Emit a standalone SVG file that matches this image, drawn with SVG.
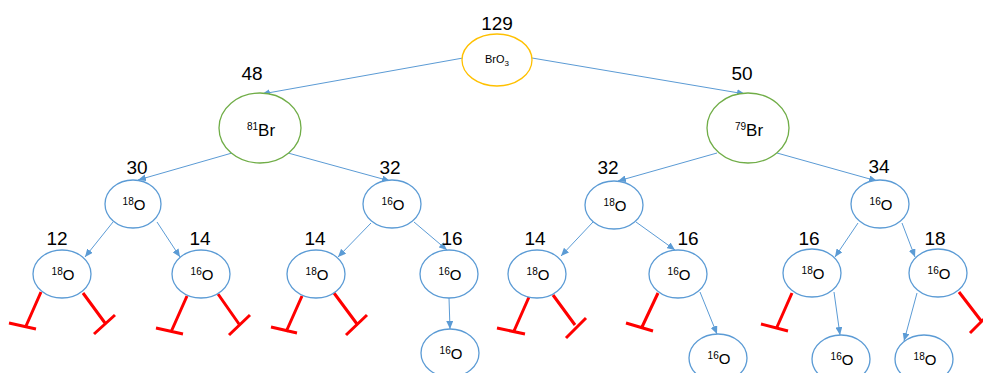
<svg xmlns="http://www.w3.org/2000/svg" width="983" height="373" viewBox="0 0 983 373">
  <style>
    .bg { fill: #ffffff; }
    .node { fill: #ffffff; stroke-width: 1.3; }
    .o { stroke: #5B9BD5; }
    .br { stroke: #70AD47; }
    .root { stroke: #FFC000; }
    .lbl { font-family: "Liberation Sans", Arial, sans-serif; font-size: 19px; fill: #000; text-anchor: middle; }
    .otxt { font-family: "Liberation Sans", Arial, sans-serif; font-size: 15px; fill: #000; text-anchor: middle; }
    .brtxt { font-family: "Liberation Sans", Arial, sans-serif; font-size: 17px; fill: #000; text-anchor: middle; }
    .rtxt { font-family: "Liberation Sans", Arial, sans-serif; font-size: 11px; fill: #000; text-anchor: middle; }
    .sup { font-size: 10px; }
    .edge { stroke: #5B9BD5; stroke-width: 1; fill: none; marker-end: url(#arrow); }
    .stop { stroke: #FF0000; stroke-width: 3; fill: none; stroke-linecap: butt; }
  </style>
  <defs>
    <marker id="arrow" markerUnits="userSpaceOnUse" markerWidth="9" markerHeight="7" refX="8" refY="3.5" orient="auto">
      <path d="M0,0 L8,3.5 L0,7 z" fill="#5B9BD5"/>
    </marker>
  </defs>
  <rect class="bg" x="0" y="0" width="983" height="373"/>

  <!-- connectors -->
  <g id="connectors">
    <path class="edge" d="M463,58 L262,94"/>
    <path class="edge" d="M532,58 L745,94"/>
    <path class="edge" d="M232,153 L138,180"/>
    <path class="edge" d="M288,153 L390,181"/>
    <path class="edge" d="M717,153 L618,181"/>
    <path class="edge" d="M777,153 L877,181"/>
    <path class="edge" d="M113,222 L85,257"/>
    <path class="edge" d="M157,222 L180,257"/>
    <path class="edge" d="M371,223 L338,257"/>
    <path class="edge" d="M414,222 L447,250"/>
    <path class="edge" d="M593,222 L561,256"/>
    <path class="edge" d="M636,222 L675,250"/>
    <path class="edge" d="M858,223 L835,257"/>
    <path class="edge" d="M902,223 L915,257"/>
    <path class="edge" d="M449,298 L450,329"/>
    <path class="edge" d="M700,292 L717,334"/>
    <path class="edge" d="M834,292 L840,335"/>
    <path class="edge" d="M917,293 L904,341"/>
  </g>

  <!-- dead-end branches -->
  <g id="stops">
    <path class="stop" d="M41,292 L26,326 M9,323 L36,329"/>
    <path class="stop" d="M83,293 L105,323 M94,334 L115,315"/>
    <path class="stop" d="M187,296 L171,332 M156,328 L183,334"/>
    <path class="stop" d="M218,294 L239,324 M229,335 L250,315"/>
    <path class="stop" d="M302,296 L286,332 M271,327 L297,333"/>
    <path class="stop" d="M334,293 L357,324 M346,335 L367,315"/>
    <path class="stop" d="M529,297 L514,331 M497,328 L525,334"/>
    <path class="stop" d="M553,295 L575,325 M566,338 L586,318"/>
    <path class="stop" d="M658,293 L642,327 M626,323 L653,331"/>
    <path class="stop" d="M792,293 L777,327 M761,324 L788,331"/>
    <path class="stop" d="M959,292 L982,322 M970,333 L990,313"/>
  </g>

  <!-- root -->
  <g id="n-bro3">
    <ellipse class="node root" cx="497" cy="60" rx="35" ry="26"/>
    <text class="rtxt" x="497" y="63">BrO<tspan font-size="8px" dy="3">3</tspan></text>
    <text class="lbl" x="497" y="30">129</text>
  </g>

  <!-- bromine isotopes -->
  <g id="n-br81">
    <ellipse class="node br" cx="260" cy="128" rx="41" ry="35"/>
    <text class="brtxt" x="261" y="136"><tspan class="sup" font-size="11px" dy="-6">81</tspan><tspan dy="6">Br</tspan></text>
    <text class="lbl" x="252" y="80">48</text>
  </g>
  <g id="n-br79">
    <ellipse class="node br" cx="748" cy="128" rx="41" ry="35"/>
    <text class="brtxt" x="749" y="136"><tspan class="sup" font-size="11px" dy="-6">79</tspan><tspan dy="6">Br</tspan></text>
    <text class="lbl" x="742" y="80">50</text>
  </g>

  <!-- first oxygen -->
  <g id="n-o1a">
    <ellipse class="node o" cx="133" cy="204" rx="28" ry="24"/>
    <text class="otxt" x="134" y="210"><tspan class="sup" dy="-5">18</tspan><tspan dy="5">O</tspan></text>
    <text class="lbl" x="137" y="174">30</text>
  </g>
  <g id="n-o1b">
    <ellipse class="node o" cx="392" cy="204" rx="29" ry="24"/>
    <text class="otxt" x="393" y="210"><tspan class="sup" dy="-5">16</tspan><tspan dy="5">O</tspan></text>
    <text class="lbl" x="390" y="174">32</text>
  </g>
  <g id="n-o1c">
    <ellipse class="node o" cx="614" cy="205" rx="29" ry="24"/>
    <text class="otxt" x="615" y="211"><tspan class="sup" dy="-5">18</tspan><tspan dy="5">O</tspan></text>
    <text class="lbl" x="608" y="174">32</text>
  </g>
  <g id="n-o1d">
    <ellipse class="node o" cx="880" cy="204" rx="29" ry="24"/>
    <text class="otxt" x="881" y="210"><tspan class="sup" dy="-5">16</tspan><tspan dy="5">O</tspan></text>
    <text class="lbl" x="879" y="173">34</text>
  </g>

  <!-- second oxygen -->
  <g id="n-o2a">
    <ellipse class="node o" cx="62" cy="274" rx="29" ry="24"/>
    <text class="otxt" x="63" y="280"><tspan class="sup" dy="-5">18</tspan><tspan dy="5">O</tspan></text>
    <text class="lbl" x="57" y="245">12</text>
  </g>
  <g id="n-o2b">
    <ellipse class="node o" cx="201" cy="274" rx="29" ry="24"/>
    <text class="otxt" x="202" y="280"><tspan class="sup" dy="-5">16</tspan><tspan dy="5">O</tspan></text>
    <text class="lbl" x="200" y="245">14</text>
  </g>
  <g id="n-o2c">
    <ellipse class="node o" cx="316" cy="274" rx="29" ry="24"/>
    <text class="otxt" x="317" y="280"><tspan class="sup" dy="-5">18</tspan><tspan dy="5">O</tspan></text>
    <text class="lbl" x="315" y="245">14</text>
  </g>
  <g id="n-o2d">
    <ellipse class="node o" cx="449" cy="274" rx="29" ry="24"/>
    <text class="otxt" x="450" y="280"><tspan class="sup" dy="-5">16</tspan><tspan dy="5">O</tspan></text>
    <text class="lbl" x="452" y="245">16</text>
  </g>
  <g id="n-o2e">
    <ellipse class="node o" cx="537" cy="274" rx="29" ry="24"/>
    <text class="otxt" x="538" y="280"><tspan class="sup" dy="-5">18</tspan><tspan dy="5">O</tspan></text>
    <text class="lbl" x="535" y="245">14</text>
  </g>
  <g id="n-o2f">
    <ellipse class="node o" cx="678" cy="274" rx="29" ry="24"/>
    <text class="otxt" x="679" y="280"><tspan class="sup" dy="-5">16</tspan><tspan dy="5">O</tspan></text>
    <text class="lbl" x="688" y="245">16</text>
  </g>
  <g id="n-o2g">
    <ellipse class="node o" cx="812" cy="273" rx="29" ry="24"/>
    <text class="otxt" x="813" y="279"><tspan class="sup" dy="-5">18</tspan><tspan dy="5">O</tspan></text>
    <text class="lbl" x="809" y="245">16</text>
  </g>
  <g id="n-o2h">
    <ellipse class="node o" cx="938" cy="273" rx="29" ry="24"/>
    <text class="otxt" x="939" y="279"><tspan class="sup" dy="-5">16</tspan><tspan dy="5">O</tspan></text>
    <text class="lbl" x="935" y="245">18</text>
  </g>

  <!-- third oxygen -->
  <g id="n-o3a">
    <ellipse class="node o" cx="450" cy="353" rx="29" ry="24"/>
    <text class="otxt" x="451" y="359"><tspan class="sup" dy="-5">16</tspan><tspan dy="5">O</tspan></text>
  </g>
  <g id="n-o3b">
    <ellipse class="node o" cx="718" cy="358" rx="29" ry="24"/>
    <text class="otxt" x="719" y="364"><tspan class="sup" dy="-5">16</tspan><tspan dy="5">O</tspan></text>
  </g>
  <g id="n-o3c">
    <ellipse class="node o" cx="841" cy="359" rx="29" ry="24"/>
    <text class="otxt" x="842" y="365"><tspan class="sup" dy="-5">16</tspan><tspan dy="5">O</tspan></text>
  </g>
  <g id="n-o3d">
    <ellipse class="node o" cx="924" cy="359" rx="29" ry="24"/>
    <text class="otxt" x="925" y="365"><tspan class="sup" dy="-5">18</tspan><tspan dy="5">O</tspan></text>
  </g>
</svg>
